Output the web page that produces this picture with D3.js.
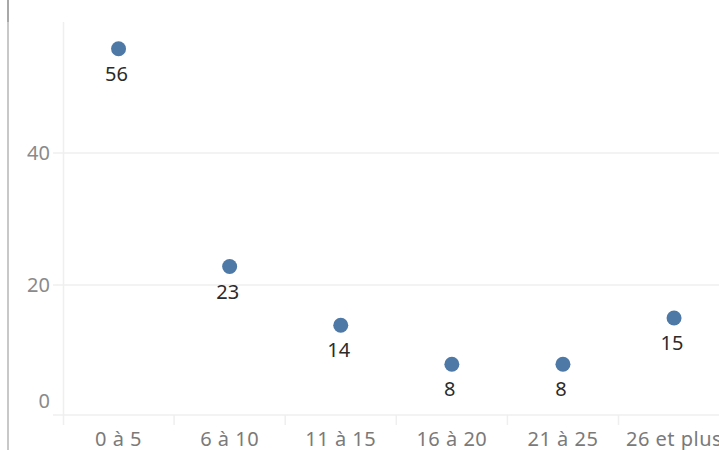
<!DOCTYPE html>
<html>
<head>
<meta charset="utf-8">
<script src="https://cdn.jsdelivr.net/npm/d3@7"></script>
<style>
  html, body { margin: 0; padding: 0; background: #fff; }
  svg { display: block; font-family: "Noto Sans", sans-serif; }
</style>
</head>
<body>
<svg id="chart" width="719" height="450"></svg>
<script>
const categories = ["0 à 5", "6 à 10", "11 à 15", "16 à 20", "21 à 25", "26 et plus"];
const values = [55.8, 22.8, 13.9, 8, 8, 15];
const labels = ["56", "23", "14", "8", "8", "15"];
const yTicks = [0, 20, 40];

const svg = d3.select("#chart");
const W = 719, H = 450;

const x = d3.scaleBand().domain(categories).range([63, 63 + 111.1 * categories.length]).padding(0);
const y = d3.scaleLinear().domain([0, 60]).range([417, 21]);
const paneTop = 22, paneBottom = 415;

// outer left border
svg.append("line").attr("x1", 8).attr("x2", 8).attr("y1", 0).attr("y2", H)
  .attr("stroke", "#c8c8c8").attr("stroke-width", 2);
svg.append("line").attr("x1", 8).attr("x2", 8).attr("y1", 0).attr("y2", paneTop)
  .attr("stroke", "#a8a8a8").attr("stroke-width", 2);

// horizontal gridlines
svg.append("g").selectAll("line").data(yTicks.filter(d => d > 0)).join("line")
  .attr("x1", 53).attr("x2", W)
  .attr("y1", d => y(d)).attr("y2", d => y(d))
  .attr("stroke", "#efefef").attr("stroke-width", 1.5);

// pane left border & bottom line
svg.append("line").attr("x1", 63.5).attr("x2", 63.5).attr("y1", paneTop).attr("y2", 425)
  .attr("stroke", "#efefef").attr("stroke-width", 1.5);
svg.append("line").attr("x1", 53).attr("x2", W).attr("y1", paneBottom).attr("y2", paneBottom)
  .attr("stroke", "#efefef").attr("stroke-width", 1.5);

// x-axis column dividers
svg.append("g").selectAll("line").data(categories.slice(1)).join("line")
  .attr("x1", d => x(d)).attr("x2", d => x(d))
  .attr("y1", paneBottom).attr("y2", 425)
  .attr("stroke", "#efefef").attr("stroke-width", 1.5);

// y tick labels
svg.append("g").selectAll("text").data(yTicks).join("text")
  .attr("x", 50)
  .attr("y", d => d === 0 ? y(d) - 16 : y(d))
  .attr("dy", "0.36em")
  .attr("text-anchor", "end")
  .attr("fill", "#8a8a8a")
  .attr("font-size", 20)
  .text(d => d);

// x labels
svg.append("g").selectAll("text").data(categories).join("text")
  .attr("x", d => x(d) + x.bandwidth() / 2)
  .attr("y", 446)
  .attr("text-anchor", "middle")
  .attr("fill", "#7a7a7a")
  .attr("font-size", 20)
  .attr("letter-spacing", 0.5)
  .text(d => d);

// points
svg.append("g").selectAll("circle").data(values).join("circle")
  .attr("cx", (d, i) => x(categories[i]) + x.bandwidth() / 2)
  .attr("cy", d => y(d))
  .attr("r", 7.5)
  .attr("fill", "#4e79a7");

// data labels
svg.append("g").selectAll("text").data(values).join("text")
  .attr("x", (d, i) => x(categories[i]) + x.bandwidth() / 2 - 2)
  .attr("y", d => y(d) + 32)
  .attr("text-anchor", "middle")
  .attr("fill", "#2b2b2b")
  .attr("font-size", 20)
  .text((d, i) => labels[i]);
</script>
</body>
</html>
